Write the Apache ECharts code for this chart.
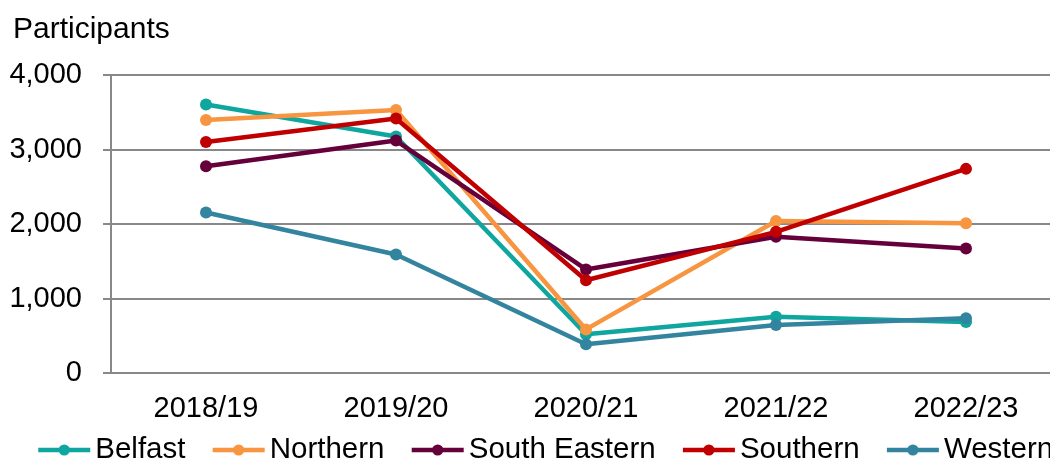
<!DOCTYPE html>
<html><head><meta charset="utf-8">
<script src="https://cdn.jsdelivr.net/npm/echarts@6/dist/echarts.min.js"></script>
<style>html,body{margin:0;padding:0;background:#fff;overflow:hidden;width:1050px;height:459px}#c{width:1061px;height:459px}</style>
</head><body><div id="c"></div>
<script>
const categories = ['2018/19','2019/20','2020/21','2021/22','2022/23'];
const belfast = [3605, 3175, 520, 755, 685];
const northern = [3395, 3530, 585, 2040, 2010];
const southEastern = [2775, 3120, 1390, 1830, 1670];
const southern = [3100, 3415, 1245, 1895, 2740];
const western = [2155, 1590, 385, 645, 735];
const yTicks = [0, 1000, 2000, 3000, 4000];
const seriesNames = ['Belfast','Northern','South Eastern','Southern','Western'];
const colors = ['#0EA69F','#F79541','#66003A','#C00000','#33849E'];
const seriesData = [belfast, northern, southEastern, southern, western];

const chart = echarts.init(document.getElementById('c'), null, {renderer:'canvas', width:1061, height:459});
const font = 'Arial, "Liberation Sans", sans-serif';
const fs = 29;
chart.setOption({
  animation:false,
  textStyle:{fontFamily:font},
  graphic:[{type:'text', x:13, y:30, style:{text:'Participants', font:'30px '+font, fill:'#000', verticalAlign:'middle'}}],
  legend:{
    left:36, top:435, padding:0, width:1100, itemWidth:52, itemHeight:14, itemGap:25,
    lineStyle:{width:4.5},
    textStyle:{fontSize:29.5, color:'#000', fontFamily:font},
    data: seriesNames
  },
  grid:{left:111, top:75, width:950, height:298, containLabel:false},
  xAxis:{
    type:'category', data:categories, boundaryGap:true,
    axisLine:{lineStyle:{color:'#888', width:2}},
    axisTick:{alignWithLabel:true, length:6, lineStyle:{color:'#888', width:2}},
    axisLabel:{fontSize:fs, color:'#000', margin:21, fontFamily:font}
  },
  yAxis:{
    type:'value', min:yTicks[0], max:yTicks[yTicks.length-1], interval:1000,
    axisLine:{show:true, lineStyle:{color:'#888', width:2}},
    axisTick:{show:true, length:8, lineStyle:{color:'#888', width:2}},
    splitLine:{lineStyle:{color:'#888', width:2}},
    axisLabel:{fontSize:fs, color:'#000', margin:29, fontFamily:font,
      formatter:v=>v.toLocaleString('en-US')}
  },
  series: seriesNames.map((n,i)=>({
    name:n, type:'line', data:seriesData[i], symbol:'circle', symbolSize:12,
    itemStyle:{color:colors[i]}, lineStyle:{color:colors[i], width:4.5}
  }))
});
</script></body></html>
